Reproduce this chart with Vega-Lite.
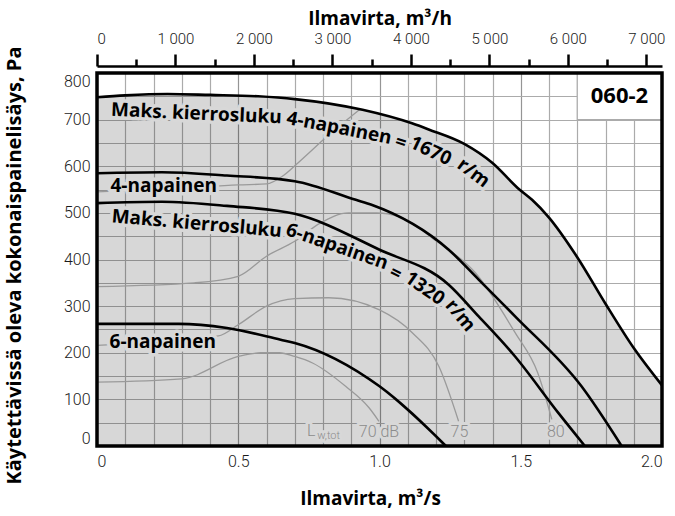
{
  "$schema": "https://vega.github.io/schema/vega-lite/v6.json",
  "width": 565,
  "height": 373,
  "autosize": "none",
  "padding": {"left": 97, "top": 73, "right": 13, "bottom": 70},
  "config": {"view": {"stroke": null}, "font": "Open Sans"},
  "datasets": {
    "curves": [
      {"c": "max4", "q": 0, "p": 748}, {"c": "max4", "q": 0.1, "p": 752}, {"c": "max4", "q": 0.25, "p": 755},
      {"c": "max4", "q": 0.4, "p": 753}, {"c": "max4", "q": 0.57, "p": 750}, {"c": "max4", "q": 0.7, "p": 744},
      {"c": "max4", "q": 0.94, "p": 721}, {"c": "max4", "q": 1.115, "p": 692}, {"c": "max4", "q": 1.174, "p": 679},
      {"c": "max4", "q": 1.3, "p": 648}, {"c": "max4", "q": 1.4, "p": 607}, {"c": "max4", "q": 1.49, "p": 553},
      {"c": "max4", "q": 1.54, "p": 528}, {"c": "max4", "q": 1.6, "p": 490}, {"c": "max4", "q": 1.7, "p": 405},
      {"c": "max4", "q": 1.8, "p": 305}, {"c": "max4", "q": 1.9, "p": 210}, {"c": "max4", "q": 2.0, "p": 130},

      {"c": "p4", "q": 0, "p": 585}, {"c": "p4", "q": 0.23, "p": 587}, {"c": "p4", "q": 0.46, "p": 580},
      {"c": "p4", "q": 0.7, "p": 568}, {"c": "p4", "q": 0.916, "p": 528}, {"c": "p4", "q": 0.974, "p": 517},
      {"c": "p4", "q": 1.245, "p": 421}, {"c": "p4", "q": 1.351, "p": 357}, {"c": "p4", "q": 1.48, "p": 278},
      {"c": "p4", "q": 1.715, "p": 128}, {"c": "p4", "q": 1.857, "p": 0},

      {"c": "max6", "q": 0, "p": 521}, {"c": "max6", "q": 0.23, "p": 524}, {"c": "max6", "q": 0.46, "p": 515},
      {"c": "max6", "q": 0.7, "p": 498}, {"c": "max6", "q": 1.0, "p": 421}, {"c": "max6", "q": 1.245, "p": 346},
      {"c": "max6", "q": 1.351, "p": 278}, {"c": "max6", "q": 1.48, "p": 192}, {"c": "max6", "q": 1.633, "p": 71},
      {"c": "max6", "q": 1.727, "p": 0},

      {"c": "p6", "q": 0, "p": 262}, {"c": "p6", "q": 0.29, "p": 262}, {"c": "p6", "q": 0.46, "p": 253},
      {"c": "p6", "q": 0.65, "p": 228}, {"c": "p6", "q": 0.7, "p": 221}, {"c": "p6", "q": 1.0, "p": 128},
      {"c": "p6", "q": 1.235, "p": 0},

      {"c": "s70", "q": 0, "p": 137}, {"c": "s70", "q": 0.3, "p": 144}, {"c": "s70", "q": 0.5, "p": 192},
      {"c": "s70", "q": 0.58, "p": 200}, {"c": "s70", "q": 0.646, "p": 200}, {"c": "s70", "q": 0.7, "p": 192},
      {"c": "s70", "q": 0.763, "p": 178}, {"c": "s70", "q": 0.88, "p": 128}, {"c": "s70", "q": 0.963, "p": 82},
      {"c": "s70", "q": 0.998, "p": 53},

      {"c": "s75", "q": 0, "p": 216}, {"c": "s75", "q": 0.43, "p": 236}, {"c": "s75", "q": 0.5, "p": 260},
      {"c": "s75", "q": 0.6, "p": 300}, {"c": "s75", "q": 0.7, "p": 316}, {"c": "s75", "q": 0.82, "p": 318},
      {"c": "s75", "q": 1.0, "p": 292}, {"c": "s75", "q": 1.116, "p": 243}, {"c": "s75", "q": 1.21, "p": 171},
      {"c": "s75", "q": 1.28, "p": 53},

      {"c": "s80", "q": 0, "p": 342}, {"c": "s80", "q": 0.345, "p": 350}, {"c": "s80", "q": 0.5, "p": 364},
      {"c": "s80", "q": 0.6, "p": 407}, {"c": "s80", "q": 0.7, "p": 439}, {"c": "s80", "q": 0.79, "p": 478},
      {"c": "s80", "q": 0.89, "p": 500}, {"c": "s80", "q": 0.99, "p": 500}, {"c": "s80", "q": 1.07, "p": 492},
      {"c": "s80", "q": 1.2, "p": 440}, {"c": "s80", "q": 1.34, "p": 371}, {"c": "s80", "q": 1.48, "p": 243},
      {"c": "s80", "q": 1.56, "p": 157}, {"c": "s80", "q": 1.61, "p": 57},

      {"c": "s85", "q": 0, "p": 545}, {"c": "s85", "q": 0.3, "p": 553}, {"c": "s85", "q": 0.5, "p": 560},
      {"c": "s85", "q": 0.6, "p": 562}, {"c": "s85", "q": 0.66, "p": 580}, {"c": "s85", "q": 0.72, "p": 612},
      {"c": "s85", "q": 0.82, "p": 667}, {"c": "s85", "q": 0.93, "p": 722}
    ],
    "labels": [
      {"g": "a1", "t": "Maks. kierrosluku", "q": 0.352, "p": 713},
      {"g": "a2", "t": "4-napainen", "q": 0.857, "p": 682},
      {"g": "a3", "t": "=", "q": 1.075, "p": 651},
      {"g": "a4", "t": "1670", "q": 1.181, "p": 633},
      {"g": "a5", "t": "r/m", "q": 1.333, "p": 586},
      {"g": "b1", "t": "Maks. kierrosluku", "q": 0.353, "p": 477},
      {"g": "b2", "t": "6-napainen", "q": 0.85, "p": 428},
      {"g": "b3", "t": "=", "q": 1.057, "p": 370},
      {"g": "b4", "t": "1320", "q": 1.16, "p": 338},
      {"g": "b5", "t": "r/m", "q": 1.286, "p": 280},
      {"g": "h", "t": "4-napainen", "q": 0.236, "p": 557},
      {"g": "h", "t": "6-napainen", "q": 0.233, "p": 223}
    ],
    "levels": [
      {"t": "70 dB", "q": 0.998, "p": 29},
      {"t": "75", "q": 1.283, "p": 29},
      {"t": "80", "q": 1.624, "p": 29},
      {"t": "L", "q": 0.758, "p": 32}
    ]
  },
  "layer": [
    {
      "encoding": {
        "x": {
          "field": "q", "type": "quantitative",
          "scale": {"domain": [0, 2], "nice": false, "zero": false},
          "axis": {
            "values": [0, 0.1, 0.2, 0.3, 0.4, 0.5, 0.6, 0.7, 0.8, 0.9, 1, 1.1, 1.2, 1.3, 1.4, 1.5, 1.6, 1.7, 1.8, 1.9, 2],
            "labelExpr": "datum.value == 0 ? '0' : (abs(datum.value * 2 - round(datum.value * 2)) < 0.001 ? format(datum.value, '.1f') : '')",
            "labelOverlap": false, "labelFlush": true, "labelBound": false,
            "grid": true,
            "gridColor": {"condition": {"test": "abs(datum.value * 2 - round(datum.value * 2)) < 0.001", "value": "#959595"}, "value": "#ababab"},
            "gridWidth": 1.2,
            "ticks": false, "tickSize": 0, "domain": false,
            "labelFont": "Roboto", "labelFontWeight": 300, "labelFontSize": 16, "labelColor": "#1a1a1a", "labelPadding": 7,
            "title": "Ilmavirta, m³/s", "titleFont": "Open Sans", "titleFontSize": 19, "titleFontWeight": "bold", "titleColor": "black",
            "titleX": 273, "titleY": 52, "titleBaseline": "middle", "titleAlign": "center"
          }
        },
        "y": {
          "field": "p", "type": "quantitative", "stack": null,
          "scale": {"domain": [0, 800], "nice": false},
          "axis": {
            "values": [0, 50, 100, 150, 200, 250, 300, 350, 400, 450, 500, 550, 600, 650, 700, 750, 800],
            "labelExpr": "datum.value % 100 == 0 ? datum.label : ''",
            "labelOverlap": false, "labelFlush": true, "labelBound": false,
            "grid": true, "gridColor": "#ababab", "gridWidth": 1.2,
            "ticks": false, "tickSize": 0, "domain": false,
            "labelFont": "Roboto", "labelFontWeight": 300, "labelFontSize": 16, "labelColor": "#1a1a1a", "labelPadding": 7,
            "title": "Käytettävissä oleva kokonaispainelisäys, Pa", "titleFont": "Open Sans", "titleFontSize": 20, "titleFontWeight": "bold", "titleColor": "black",
            "titleX": -83, "titleY": 192, "titleAngle": -90, "titleAlign": "center", "titleBaseline": "middle"
          }
        }
      },
      "layer": [
        {
          "data": {"name": "curves"},
          "transform": [{"filter": "datum.c == 'max4'"}],
          "mark": {"type": "area", "interpolate": "monotone", "color": "#000000", "fillOpacity": 0.155}
        },
        {
          "data": {"values": [{"q": 1.7, "q2": 2.0, "p": 700, "p2": 800}]},
          "mark": {"type": "rect", "fill": "white", "stroke": "#ababab", "strokeWidth": 1.2},
          "encoding": {"x2": {"field": "q2"}, "y2": {"field": "p2"}}
        },
        {
          "data": {"name": "curves"},
          "transform": [{"filter": "indexof(['s70', 's75', 's80', 's85'], datum.c) >= 0"}],
          "mark": {"type": "line", "interpolate": "monotone", "color": "#9a9a9a", "strokeWidth": 1.3},
          "encoding": {"detail": {"field": "c"}}
        },

        {"data": {"name": "levels"},
         "mark": {"type": "text", "font": "Roboto", "fontWeight": 300, "fontSize": 16, "fill": "#d8d8d8", "stroke": "#d8d8d8", "strokeWidth": 6, "strokeJoin": "round", "align": "center", "baseline": "middle"},
         "encoding": {"text": {"field": "t"}}},
        {"data": {"name": "levels"}, "transform": [{"filter": "datum.t == 'L'"}],
         "mark": {"type": "text", "font": "Roboto", "fontWeight": 300, "fontSize": 11, "fill": "#d8d8d8", "stroke": "#d8d8d8", "strokeWidth": 6, "strokeJoin": "round", "align": "left", "baseline": "middle", "dx": 6, "dy": 5},
         "encoding": {"text": {"value": "w,tot"}}},

        {"data": {"name": "labels"}, "transform": [{"filter": "datum.g == 'h'"}],
         "mark": {"type": "text", "font": "Open Sans", "fontWeight": "bold", "fontSize": 19, "fill": "#d8d8d8", "stroke": "#d8d8d8", "strokeWidth": 7, "strokeJoin": "round", "align": "center", "baseline": "middle"},
         "encoding": {"text": {"field": "t"}}},
        {"data": {"name": "labels"}, "transform": [{"filter": "datum.g == 'a1'"}],
         "mark": {"type": "text", "font": "Open Sans", "fontWeight": "bold", "fontSize": 19, "fill": "#d8d8d8", "stroke": "#d8d8d8", "strokeWidth": 7, "strokeJoin": "round", "align": "center", "baseline": "middle", "angle": 2.5},
         "encoding": {"text": {"field": "t"}}},
        {"data": {"name": "labels"}, "transform": [{"filter": "datum.g == 'a2'"}],
         "mark": {"type": "text", "font": "Open Sans", "fontWeight": "bold", "fontSize": 19, "fill": "#d8d8d8", "stroke": "#d8d8d8", "strokeWidth": 7, "strokeJoin": "round", "align": "center", "baseline": "middle", "angle": 11},
         "encoding": {"text": {"field": "t"}}},
        {"data": {"name": "labels"}, "transform": [{"filter": "datum.g == 'a3'"}],
         "mark": {"type": "text", "font": "Open Sans", "fontWeight": "bold", "fontSize": 19, "fill": "#d8d8d8", "stroke": "#d8d8d8", "strokeWidth": 7, "strokeJoin": "round", "align": "center", "baseline": "middle", "angle": 18},
         "encoding": {"text": {"field": "t"}}},
        {"data": {"name": "labels"}, "transform": [{"filter": "datum.g == 'a4'"}],
         "mark": {"type": "text", "font": "Open Sans", "fontWeight": "bold", "fontSize": 19, "fill": "#d8d8d8", "stroke": "#d8d8d8", "strokeWidth": 7, "strokeJoin": "round", "align": "center", "baseline": "middle", "angle": 25},
         "encoding": {"text": {"field": "t"}}},
        {"data": {"name": "labels"}, "transform": [{"filter": "datum.g == 'a5'"}],
         "mark": {"type": "text", "font": "Open Sans", "fontWeight": "bold", "fontSize": 19, "fill": "#d8d8d8", "stroke": "#d8d8d8", "strokeWidth": 7, "strokeJoin": "round", "align": "center", "baseline": "middle", "angle": 37},
         "encoding": {"text": {"field": "t"}}},
        {"data": {"name": "labels"}, "transform": [{"filter": "datum.g == 'b1'"}],
         "mark": {"type": "text", "font": "Open Sans", "fontWeight": "bold", "fontSize": 19, "fill": "#d8d8d8", "stroke": "#d8d8d8", "strokeWidth": 7, "strokeJoin": "round", "align": "center", "baseline": "middle", "angle": 5},
         "encoding": {"text": {"field": "t"}}},
        {"data": {"name": "labels"}, "transform": [{"filter": "datum.g == 'b2'"}],
         "mark": {"type": "text", "font": "Open Sans", "fontWeight": "bold", "fontSize": 19, "fill": "#d8d8d8", "stroke": "#d8d8d8", "strokeWidth": 7, "strokeJoin": "round", "align": "center", "baseline": "middle", "angle": 19},
         "encoding": {"text": {"field": "t"}}},
        {"data": {"name": "labels"}, "transform": [{"filter": "datum.g == 'b3'"}],
         "mark": {"type": "text", "font": "Open Sans", "fontWeight": "bold", "fontSize": 19, "fill": "#d8d8d8", "stroke": "#d8d8d8", "strokeWidth": 7, "strokeJoin": "round", "align": "center", "baseline": "middle", "angle": 27},
         "encoding": {"text": {"field": "t"}}},
        {"data": {"name": "labels"}, "transform": [{"filter": "datum.g == 'b4'"}],
         "mark": {"type": "text", "font": "Open Sans", "fontWeight": "bold", "fontSize": 19, "fill": "#d8d8d8", "stroke": "#d8d8d8", "strokeWidth": 7, "strokeJoin": "round", "align": "center", "baseline": "middle", "angle": 35},
         "encoding": {"text": {"field": "t"}}},
        {"data": {"name": "labels"}, "transform": [{"filter": "datum.g == 'b5'"}],
         "mark": {"type": "text", "font": "Open Sans", "fontWeight": "bold", "fontSize": 19, "fill": "#d8d8d8", "stroke": "#d8d8d8", "strokeWidth": 7, "strokeJoin": "round", "align": "center", "baseline": "middle", "angle": 50},
         "encoding": {"text": {"field": "t"}}},

        {
          "data": {"name": "curves"},
          "transform": [{"filter": "indexof(['max4', 'p4', 'max6', 'p6'], datum.c) >= 0"}],
          "mark": {"type": "line", "interpolate": "monotone", "color": "#000000", "strokeWidth": 2.6},
          "encoding": {"detail": {"field": "c"}}
        },

        {"data": {"name": "levels"},
         "mark": {"type": "text", "font": "Roboto", "fontWeight": 300, "fontSize": 16, "color": "#8c8c8c", "align": "center", "baseline": "middle"},
         "encoding": {"text": {"field": "t"}}},
        {"data": {"name": "levels"}, "transform": [{"filter": "datum.t == 'L'"}],
         "mark": {"type": "text", "font": "Roboto", "fontWeight": 300, "fontSize": 11, "color": "#8c8c8c", "align": "left", "baseline": "middle", "dx": 6, "dy": 5},
         "encoding": {"text": {"value": "w,tot"}}},

        {"data": {"name": "labels"}, "transform": [{"filter": "datum.g == 'h'"}],
         "mark": {"type": "text", "font": "Open Sans", "fontWeight": "bold", "fontSize": 19, "color": "black", "align": "center", "baseline": "middle"},
         "encoding": {"text": {"field": "t"}}},
        {"data": {"name": "labels"}, "transform": [{"filter": "datum.g == 'a1'"}],
         "mark": {"type": "text", "font": "Open Sans", "fontWeight": "bold", "fontSize": 19, "color": "black", "align": "center", "baseline": "middle", "angle": 2.5},
         "encoding": {"text": {"field": "t"}}},
        {"data": {"name": "labels"}, "transform": [{"filter": "datum.g == 'a2'"}],
         "mark": {"type": "text", "font": "Open Sans", "fontWeight": "bold", "fontSize": 19, "color": "black", "align": "center", "baseline": "middle", "angle": 11},
         "encoding": {"text": {"field": "t"}}},
        {"data": {"name": "labels"}, "transform": [{"filter": "datum.g == 'a3'"}],
         "mark": {"type": "text", "font": "Open Sans", "fontWeight": "bold", "fontSize": 19, "color": "black", "align": "center", "baseline": "middle", "angle": 18},
         "encoding": {"text": {"field": "t"}}},
        {"data": {"name": "labels"}, "transform": [{"filter": "datum.g == 'a4'"}],
         "mark": {"type": "text", "font": "Open Sans", "fontWeight": "bold", "fontSize": 19, "color": "black", "align": "center", "baseline": "middle", "angle": 25},
         "encoding": {"text": {"field": "t"}}},
        {"data": {"name": "labels"}, "transform": [{"filter": "datum.g == 'a5'"}],
         "mark": {"type": "text", "font": "Open Sans", "fontWeight": "bold", "fontSize": 19, "color": "black", "align": "center", "baseline": "middle", "angle": 37},
         "encoding": {"text": {"field": "t"}}},
        {"data": {"name": "labels"}, "transform": [{"filter": "datum.g == 'b1'"}],
         "mark": {"type": "text", "font": "Open Sans", "fontWeight": "bold", "fontSize": 19, "color": "black", "align": "center", "baseline": "middle", "angle": 5},
         "encoding": {"text": {"field": "t"}}},
        {"data": {"name": "labels"}, "transform": [{"filter": "datum.g == 'b2'"}],
         "mark": {"type": "text", "font": "Open Sans", "fontWeight": "bold", "fontSize": 19, "color": "black", "align": "center", "baseline": "middle", "angle": 19},
         "encoding": {"text": {"field": "t"}}},
        {"data": {"name": "labels"}, "transform": [{"filter": "datum.g == 'b3'"}],
         "mark": {"type": "text", "font": "Open Sans", "fontWeight": "bold", "fontSize": 19, "color": "black", "align": "center", "baseline": "middle", "angle": 27},
         "encoding": {"text": {"field": "t"}}},
        {"data": {"name": "labels"}, "transform": [{"filter": "datum.g == 'b4'"}],
         "mark": {"type": "text", "font": "Open Sans", "fontWeight": "bold", "fontSize": 19, "color": "black", "align": "center", "baseline": "middle", "angle": 35},
         "encoding": {"text": {"field": "t"}}},
        {"data": {"name": "labels"}, "transform": [{"filter": "datum.g == 'b5'"}],
         "mark": {"type": "text", "font": "Open Sans", "fontWeight": "bold", "fontSize": 19, "color": "black", "align": "center", "baseline": "middle", "angle": 50},
         "encoding": {"text": {"field": "t"}}},

        {"data": {"values": [{"t": "060-2", "q": 1.951, "p": 750}]},
         "mark": {"type": "text", "font": "Open Sans", "fontWeight": "bold", "fontSize": 22, "color": "black", "align": "right", "baseline": "middle"},
         "encoding": {"text": {"field": "t"}}},

        {"data": {"values": [{"q": 0, "q2": 2, "p": 0, "p2": 800}]},
         "mark": {"type": "rect", "fill": "transparent", "stroke": "black", "strokeWidth": 3.5},
         "encoding": {"x2": {"field": "q2"}, "y2": {"field": "p2"}}}
      ]
    },
    {
      "data": {"values": [{"h": 0}]},
      "mark": {"type": "rule", "opacity": 0},
      "encoding": {
        "x": {
          "field": "h", "type": "quantitative",
          "scale": {"domain": [0, 7200], "nice": false, "zero": false},
          "axis": {
            "orient": "top", "offset": 7,
            "values": [0, 1000, 2000, 3000, 4000, 5000, 6000, 7000],
            "labelExpr": "replace(format(datum.value, ','), ',', ' ')",
            "tickSize": 12, "tickWidth": 2.5, "tickColor": "black",
            "domainColor": "black", "domainWidth": 2.5, "grid": false,
            "labelFont": "Roboto", "labelFontWeight": 300, "labelFontSize": 15, "labelColor": "#1a1a1a", "labelPadding": 8,
            "labelOverlap": false, "labelFlush": true,
            "title": "Ilmavirta, m³/h", "titleFont": "Open Sans", "titleFontSize": 19, "titleFontWeight": "bold", "titleColor": "black", "titlePadding": 3
          }
        }
      }
    },
    {
      "data": {"values": [{"h": 0}]},
      "mark": {"type": "rule", "opacity": 0},
      "encoding": {
        "x": {
          "field": "h", "type": "quantitative",
          "scale": {"domain": [0, 7200], "nice": false, "zero": false},
          "axis": {
            "orient": "top", "offset": 7,
            "values": [500, 1500, 2500, 3500, 4500, 5500, 6500],
            "tickSize": 7, "tickWidth": 2.5, "tickColor": "black",
            "domain": false, "labels": false, "grid": false, "title": null
          }
        }
      }
    }
  ],
  "resolve": {"scale": {"x": "independent"}, "axis": {"x": "independent"}}
}
